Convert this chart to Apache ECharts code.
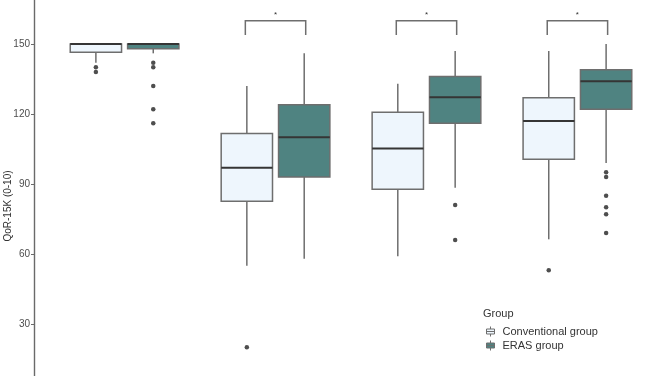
<!DOCTYPE html>
<html><head><meta charset="utf-8">
<script src="https://cdn.jsdelivr.net/npm/echarts@6/dist/echarts.min.js"></script>
<style>html,body{margin:0;padding:0;background:#fff}#c{width:668px;height:376px}</style>
</head><body><div id="c"></div>
<script>
// Time points (x-axis labels are cropped out of the reference)
const categories = ['T1', 'T2', 'T3', 'T4'];
const seriesNames = ['Conventional group', 'ERAS group'];
const yTicks = [30, 60, 90, 120, 150];

// [lower whisker, Q1, median, Q3, upper whisker] per time point
const conventionalBox = [
  [142, 146.5, 150, 150, 150],
  [55, 82.6, 97, 111.6, 132],
  [59, 87.7, 105.2, 120.7, 133],
  [66.3, 100.6, 117, 127, 147]
];
const erasBox = [
  [146, 148, 150, 150, 150],
  [58, 93, 110, 124, 146],
  [88.4, 116, 127.2, 136.1, 147],
  [99, 122, 134, 139, 150]
];
// outliers per time point
const conventionalOutliers = [[140, 138], [20], [], [53]];
const erasOutliers = [[142, 140, 132, 122, 116], [], [81, 66], [95, 93, 85, 80, 77, 69]];
// significance annotations (time point index, label)
const sigPoints = [2, 3, 4];
const sigLabels = ['*', '*', '*'];

const DODGE = 0.19, HALF = 0.17, BR = 0.2;
const FONT = 'Liberation Sans, Arial, sans-serif';
const fills = ['#eef6fd', '#4f8381'];
const edge = '#6e6e6e';

function boxData(stats) {
  return stats.map((s, i) => [i + 1].concat(s));
}
function outData(outs, off) {
  const d = [];
  outs.forEach((arr, i) => arr.forEach(v => d.push([i + 1 + off, v])));
  return d;
}
function makeBox(off, fill) {
  return function (params, api) {
    const x = api.value(0) + off;
    const lo = api.coord([x, api.value(1)]);
    const q1 = api.coord([x, api.value(2)]);
    const md = api.coord([x, api.value(3)]);
    const q3 = api.coord([x, api.value(4)]);
    const hi = api.coord([x, api.value(5)]);
    const L = api.coord([x - HALF, 0])[0], R = api.coord([x + HALF, 0])[0];
    const ls = { stroke: edge, lineWidth: 1.5 };
    return { type: 'group', children: [
      { type: 'line', shape: { x1: lo[0], y1: lo[1], x2: q1[0], y2: q1[1] }, style: ls },
      { type: 'line', shape: { x1: q3[0], y1: q3[1], x2: hi[0], y2: hi[1] }, style: ls },
      { type: 'rect', shape: { x: L, y: q3[1], width: R - L, height: q1[1] - q3[1] }, style: { fill: fill, stroke: edge, lineWidth: 1.5 } },
      { type: 'line', shape: { x1: L, y1: md[1], x2: R, y2: md[1] }, style: { stroke: '#353535', lineWidth: 2 } }
    ]};
  };
}
function renderSig(params, api) {
  const x = api.value(0);
  const a = api.coord([x - BR, 153.9]);
  const b = api.coord([x - BR, 160]);
  const c = api.coord([x + BR, 160]);
  const d = api.coord([x + BR, 153.9]);
  const m = api.coord([x, 160]);
  return { type: 'group', children: [
    { type: 'polyline', shape: { points: [a, b, c, d] }, style: { stroke: edge, lineWidth: 1.5, fill: null } },
    { type: 'text', x: m[0], y: m[1] - 6, style: { text: sigLabels[params.dataIndex], fontSize: 8, fill: '#333', align: 'center', verticalAlign: 'middle', fontFamily: FONT } }
  ]};
}
const ICON = 'path://M4,0L4,2.5M0,2.5L8,2.5L8,7.5L0,7.5ZM0,5L8,5M4,7.5L4,10';

const chart = echarts.init(document.getElementById('c'));
chart.setOption({
  animation: false,
  backgroundColor: '#fff',
  grid: { left: 34, right: 0, top: -26, bottom: -18, containLabel: false, outerBoundsMode: 'none' },
  xAxis: { type: 'value', min: 0.4, max: 4.6, show: false },
  yAxis: {
    type: 'value', min: 0, max: 180, interval: 30,
    axisLine: { show: true, lineStyle: { color: '#6a6a6a', width: 1.4 } },
    axisTick: { show: true, length: 3, lineStyle: { color: '#6a6a6a' } },
    axisLabel: { fontSize: 10, color: '#4d4d4d', margin: 4, fontFamily: FONT,
      formatter: v => yTicks.indexOf(v) >= 0 ? String(v) : '' },
    splitLine: { show: false }
  },
  title: { text: 'Group', left: 483, top: 308, padding: 0, textStyle: { fontSize: 11, fontWeight: 'normal', color: '#333', fontFamily: FONT } },
  legend: {
    orient: 'vertical', left: 486, top: 326, padding: 0, itemWidth: 8, itemHeight: 10, itemGap: 3,
    selectedMode: false,
    textStyle: { fontSize: 11, color: '#333', fontFamily: FONT, padding: [0, 0, 0, 3] },
    data: [
      { name: seriesNames[0], icon: ICON, itemStyle: { color: fills[0], borderColor: edge, borderWidth: 1 } },
      { name: seriesNames[1], icon: ICON, itemStyle: { color: fills[1], borderColor: edge, borderWidth: 1 } }
    ]
  },
  graphic: [{
    type: 'text', x: 8, y: 206, rotation: Math.PI / 2,
    style: { text: 'QoR-15K (0-10)', fontSize: 10, fill: '#333', align: 'center', verticalAlign: 'middle', fontFamily: FONT }
  }],
  series: [
    { name: seriesNames[0], type: 'custom', renderItem: makeBox(-DODGE, fills[0]), data: boxData(conventionalBox),
      encode: { x: 0, y: [1, 2, 3, 4, 5] }, itemStyle: { color: fills[0] }, clip: false },
    { name: seriesNames[1], type: 'custom', renderItem: makeBox(DODGE, fills[1]), data: boxData(erasBox),
      encode: { x: 0, y: [1, 2, 3, 4, 5] }, itemStyle: { color: fills[1] }, clip: false },
    { name: 'conv-out', type: 'scatter', data: outData(conventionalOutliers, -DODGE), symbolSize: 4.5, itemStyle: { color: '#222' } },
    { name: 'eras-out', type: 'scatter', data: outData(erasOutliers, DODGE), symbolSize: 4.5, itemStyle: { color: '#222' } },
    { name: 'sig', type: 'custom', renderItem: renderSig, data: sigPoints.map(p => [p]), encode: { x: 0 }, clip: false }
  ]
});
</script></body></html>
